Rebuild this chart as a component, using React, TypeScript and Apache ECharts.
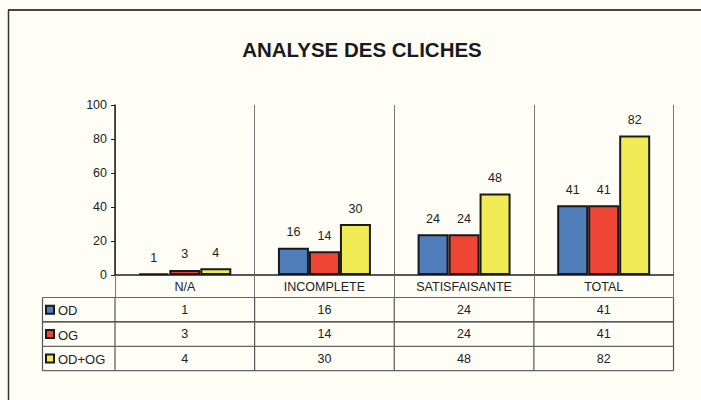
import React, { useEffect, useRef } from "react";
import * as echarts from "echarts";

const title = "ANALYSE DES CLICHES";
const categories = ["N/A", "INCOMPLETE", "SATISFAISANTE", "TOTAL"];
const seriesNames = ["OD", "OG", "OD+OG"];
const odValues = [1, 16, 24, 41];
const ogValues = [3, 14, 24, 41];
const odogValues = [4, 30, 48, 82];
const yTicks = [0, 20, 40, 60, 80, 100];

const colors = ["#4F7EBB", "#EE4535", "#F0EA55"];
const FONT = "'Liberation Sans', Arial, sans-serif";

const W = 701;
const H = 400;
const gridLeft = 115;
const gridRight = 673.5;
const gridTop = 105;
const gridBottom = 275;
const tableLeft = 42.5;
const headerBottom = 297.5;
const rowH = 24.4;

export default function App() {
  const ref = useRef<HTMLDivElement>(null);
  useEffect(() => {
    if (!ref.current) return;
    const chart = echarts.init(ref.current, null, { renderer: "svg", width: W, height: H });
    const values = [odValues, ogValues, odogValues];
    chart.setOption({
      animation: false,
      backgroundColor: "#FEFEF7",
      title: {
        text: title,
        left: 357,
        top: 34,
        textAlign: "center",
        textStyle: { fontFamily: FONT, fontSize: 20.5, fontWeight: "bold", color: "#1a1a1a" },
      },
      grid: {
        left: gridLeft,
        right: W - gridRight,
        top: gridTop,
        bottom: H - gridBottom,
        containLabel: false,
      },
      xAxis: {
        type: "category",
        data: categories,
        axisLine: { show: true, lineStyle: { color: "#222", width: 1.5 } },
        axisTick: { show: true, length: 22.5, lineStyle: { color: "#777", width: 1 } },
        splitLine: { show: true, lineStyle: { color: "#777", width: 1 } },
        axisLabel: { margin: 5, fontFamily: FONT, fontSize: 12.5, color: "#222" },
      },
      yAxis: {
        type: "value",
        min: 0,
        max: yTicks[yTicks.length - 1],
        interval: yTicks[1] - yTicks[0],
        axisLine: { show: true, lineStyle: { color: "#222", width: 1.5 } },
        axisTick: { show: true, length: 4, lineStyle: { color: "#222" } },
        splitLine: { show: false },
        axisLabel: { margin: 8, fontFamily: FONT, fontSize: 12.5, color: "#222" },
      },
      series: seriesNames.map((name, i) => ({
        name,
        type: "bar",
        data: values[i],
        barWidth: 31,
        barGap: "0%",
        itemStyle: { color: colors[i], borderColor: "#1a1a1a", borderWidth: 2 },
        label: {
          show: true,
          position: "top",
          distance: 9,
          fontFamily: FONT,
          fontSize: 12.5,
          color: "#222",
        },
      })),
    });

    const step = (gridRight - gridLeft) / categories.length;
    const bx = categories.map((_, i) => gridLeft + step * (i + 1));
    const allV = [tableLeft, gridLeft, ...bx];
    const tableBottom = headerBottom + rowH * seriesNames.length;
    const g: any[] = [];
    g.push({ type: "line", shape: { x1: 8, y1: 10, x2: W, y2: 10 }, style: { stroke: "#444", lineWidth: 2 } });
    g.push({ type: "line", shape: { x1: 8.5, y1: 10, x2: 8.5, y2: H }, style: { stroke: "#333", lineWidth: 1.5 } });
    for (let r = 0; r <= seriesNames.length; r++) {
      const y = headerBottom + rowH * r;
      g.push({
        type: "line",
        shape: { x1: tableLeft, y1: y, x2: gridRight, y2: y },
        style: { stroke: r === 1 ? "#222" : "#666", lineWidth: 1.2 },
      });
    }
    allV.forEach((x) => {
      g.push({
        type: "line",
        shape: { x1: x, y1: headerBottom, x2: x, y2: tableBottom },
        style: { stroke: "#555", lineWidth: 1.2 },
      });
    });
    seriesNames.forEach((name, r) => {
      const cy = headerBottom + rowH * r + rowH / 2;
      g.push({
        type: "rect",
        shape: { x: 46, y: cy - 4, width: 8, height: 8 },
        style: { fill: colors[r], stroke: "#1a1a1a", lineWidth: 2 },
      });
      g.push({
        type: "text",
        x: 58,
        y: cy + 1,
        style: {
          text: name,
          font: `13px ${FONT}`,
          fill: "#222",
          align: "left",
          textAlign: "left",
          verticalAlign: "middle",
          textVerticalAlign: "middle",
        },
      });
      values[r].forEach((v, c) => {
        const cx = chart.convertToPixel({ xAxisIndex: 0 }, categories[c]) as number;
        g.push({
          type: "text",
          x: cx,
          y: cy,
          style: {
            text: String(v),
            font: `12.5px ${FONT}`,
            fill: "#222",
            align: "center",
            textAlign: "center",
            verticalAlign: "middle",
            textVerticalAlign: "middle",
          },
        });
      });
    });
    chart.setOption({ graphic: { elements: g } });
    return () => chart.dispose();
  }, []);
  return <div ref={ref} style={{ width: W, height: H, position: "absolute", left: 0, top: 0 }} />;
}
